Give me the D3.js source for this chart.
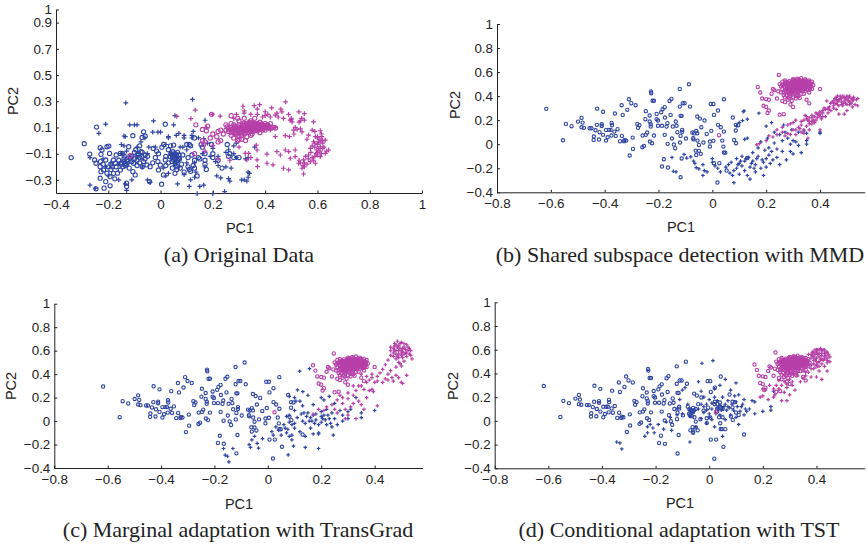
<!DOCTYPE html>
<html><head><meta charset="utf-8">
<script src="https://cdn.jsdelivr.net/npm/d3@7"></script>
<style>html,body{margin:0;padding:0;background:#fff}svg{display:block}</style>
</head><body><svg id="c" width="867" height="546"></svg>
<script>
const aBlueCircles=[[-.342,-.13],[-.292,-.024],[-.271,-.103],[-.245,.103],[-.252,-.148],[-.247,-.173],[-.231,-.054],[-.228,-.105],[-.224,-.072],[-.231,-.199],[-.228,-.237],[-.231,-.287],[-.247,-.368],[-.216,-.363],[-.21,-.313],[-.193,-.345],[-.205,-.047],[-.198,-.042],[-.195,-.098],[-.21,-.148],[-.18,-.148],[-.173,-.173],[-.218,-.224],[-.205,-.249],[-.193,-.275],[-.175,-.292],[-.165,-.249],[-.154,-.224],[-.144,-.199],[-.135,-.173],[-.129,-.148],[-.154,-.098],[-.139,-.118],[-.122,-.047],[-.114,-.135],[-.103,-.173],[-.106,-.237],[-.097,-.262],[-.106,.037],[-.065,.067],[-.059,.034],[-.071,.024],[-.084,-.1],[-.071,-.124],[-.065,-.16],[-.052,-.186],[-.04,-.199],[-.075,-.085],[-.09,-.15],[-.059,-.11],[-.13,-.325],[-.13,-.351],[-.042,-.313],[.004,-.333],[.011,-.262],[-.008,-.224],[-.001,-.186],[.018,-.148],[.037,-.123],[.05,-.148],[.056,-.173],[.062,-.199],[.069,-.135],[.047,-.085],[.05,-.034],[.018,.125],[-.028,-.06],[-.015,-.08],[-.008,-.1],[.005,-.05],[.012,-.03],[.02,-.12],[.03,-.07],[.038,-.04],[.044,-.16],[.05,-.11],[.055,-.1],[.06,-.13],[.06,-.16],[.065,-.09],[.072,-.14],[.08,-.18],[.085,-.11],[.055,-.25],[.062,-.22],[.045,-.21],[.02,-.19],[.1,-.03],[.11,-.03],[.115,-.04],[.105,-.13],[.105,-.2],[.11,-.22],[.115,-.235],[.125,-.19],[.13,-.21],[.13,.02],[.12,-.11],[.145,-.13],[.15,-.14],[.16,-.05],[.155,-.03],[.17,-.15],[.175,-.22],[.195,-.03],[.2,-.1],[.2,-.13],[.22,-.15],[.235,-.21],[.26,-.12],[.265,-.1],[.28,-.13],[.3,-.13],[.255,-.03],[.17,-.18],[.14,-.27],[-.145,-.1],[-.16,-.15],[-.17,-.11],[-.12,-.21],[-.125,-.16],[-.11,-.12],[-.1,-.09],[-.095,-.07],[-.08,-.04],[-.02,-.13],[-.03,-.17],[-.01,-.16],[.03,-.17],[-.23,-.16],[-.22,-.18],[-.2,-.2],[-.19,-.22],[-.18,-.25],[-.17,-.2],[-.15,-.18],[-.14,-.14],[-.11,-.16],[-.09,-.19],[-.08,-.17],[-.07,-.2],[.09,-.24],[.075,-.21],[.13,-.15],[.17,-.1],[-.085,-.11],[-.08,-.13],[-.07,-.09],[-.06,-.14],[-.05,-.12],[-.1,-.14],[-.09,-.11],[.045,-.13],[.05,-.12],[.055,-.14],[.06,-.11],[.04,-.1],[.07,-.11],[.065,-.15],[-.14,-.16],[-.135,-.19],[-.13,-.18],[-.15,-.17],[-.19,-.18],[-.185,-.2]];
const aBluePlus=[[-.133,.288],[.122,.315],[-.21,.125],[-.236,.055],[-.118,.12],[-.1,.12],[-.09,.12],[-.027,.15],[.055,.19],[.05,.12],[-.135,.03],[-.14,.035],[-.06,.02],[-.03,.065],[-.01,.065],[0,.065],[.03,.03],[.03,.02],[.07,.055],[.09,.04],[.12,.04],[.12,.02],[.09,.02],[-.14,-.04],[-.15,-.03],[-.13,-.08],[-.09,-.05],[-.075,-.01],[-.15,-.1],[-.27,-.13],[-.27,-.34],[-.25,-.365],[-.2,-.27],[-.16,-.3],[-.135,-.33],[-.13,-.38],[-.11,-.3],[-.07,-.2],[-.05,-.3],[-.04,-.32],[.065,-.33],[.055,-.19],[.11,-.35],[.115,-.3],[.13,-.28],[.14,-.405],[.15,-.35],[.165,-.34],[.2,-.405],[.245,-.39],[.21,-.16],[.22,-.19],[.215,-.27],[.23,-.285],[.265,-.31],[.26,-.29],[.31,-.3],[.32,-.3],[.33,-.31],[.335,-.28],[.335,-.24],[.34,-.25],[.29,-.13],[.28,-.1],[.26,-.07],[.25,-.09],[.25,-.2],[.27,-.21],[.22,-.12],[.2,-.06],[.18,-.02],[.165,.015],[.17,.155],[.145,.02],[.125,.07],[.1,-.07],[.085,-.05],[.075,-.05],[.04,-.1],[.02,-.03],[-.02,-.05],[-.045,-.05],[.06,-.17],[.07,-.2],[.1,-.17],[.13,-.17],[.17,-.2],[.16,-.1],[.19,-.12],[.28,-.04],[.29,-.02],[.36,-.05],[.335,-.13],[.325,-.14],[-.05,-.1],[-.12,-.12],[-.16,-.18],[-.19,-.17],[-.21,-.2],[-.22,-.14],[.01,-.21],[.03,-.25],[.09,-.26],[.02,-.27],[.06,.04],[.135,-.24]];
const aPinkCircles=[[.27,.19],[.195,.2],[.18,.11],[.135,.12],[.16,.085],[.175,.075],[.2,.05],[.19,.02],[.17,-.01],[.16,.0],[.215,.03],[.22,.07],[.23,.08],[.24,.05],[.22,-.01],[.23,.0],[.13,-.1],[-.117,-.115],[.165,-.03],[.25,.12],[.26,.09],[.25,.08],[.27,.13],[.28,.12],[.27,.1],[.28,.07],[.27,.06],[.29,.05],[.3,.08],[.29,.1],[.3,.12],[.31,.1],[.32,.13],[.31,.07],[.32,.05],[.3,.03],[.33,.09],[.33,.12],[.34,.1],[.35,.12],[.34,.08],[.35,.07],[.36,.09],[.36,.11],[.37,.13],[.38,.11],[.37,.09],[.38,.09],[.39,.12],[.4,.1],[.41,.1],[.42,.1],[.4,.08],[.39,.08],[.43,.1],[.36,.13],[.345,.15],[.36,.17],[.32,.17],[.3,.15],[.295,.17],[.35,.05],[.33,.03],[.31,.01],[.295,.0],[.28,.02],[.27,.04],[.3,.01],[.325,0],[.345,.04],[.38,.06],[.4,.13],[.38,.14],[.42,.13],[.44,.095],[.26,.07],[.255,.105],[.285,.085],[.315,.115],[.325,.075],[.355,.1],[.375,.105],[.395,.1],[.41,.12],[.35,.09],[.365,.115],[.29,.06],[.31,.04],[.34,.13]];
const aPinkCore=[[.345,.1],[.35,.105],[.355,.115],[.36,.1],[.365,.095],[.37,.11],[.375,.12],[.38,.1],[.385,.11],[.39,.095],[.395,.115],[.4,.115],[.405,.095],[.41,.11],[.415,.105],[.34,.115],[.335,.105],[.33,.1],[.325,.11],[.32,.1],[.315,.09],[.31,.085],[.305,.1],[.3,.09],[.295,.08],[.29,.09],[.285,.1],[.28,.095],[.275,.085],[.27,.08],[.33,.075],[.32,.085],[.31,.06],[.3,.06],[.34,.065],[.35,.08],[.36,.075],[.37,.075],[.375,.085],[.385,.09],[.39,.105],[.405,.11],[.36,.125],[.37,.12],[.38,.125],[.35,.135],[.34,.14],[.33,.13],[.305,.07],[.295,.07],[.285,.06],[.285,.11],[.3,.105],[.315,.13],[.325,.06],[.355,.085],[.365,.105],[.345,.09],[.335,.085],[.32,.075]];
const aPinkPlus=[[.133,.232],[.062,.184],[.116,.168],[.198,.2],[.228,.186],[.315,.262],[.32,.226],[.358,.267],[.379,.274],[.425,.25],[.478,.295],[.464,.219],[.439,.194],[.529,.219],[.55,.206],[.496,.156],[.503,.143],[.534,.15],[.55,.156],[.585,.143],[.611,.075],[.522,.085],[.509,.08],[.541,.067],[.566,.042],[.592,.03],[.617,.03],[.604,-.009],[.585,-.009],[.63,.004],[.611,-.047],[.643,-.072],[.63,-.098],[.598,-.072],[.573,-.06],[.566,-.11],[.611,-.123],[.592,-.173],[.573,-.16],[.547,-.148],[.528,-.173],[.541,-.211],[.515,-.123],[.496,-.135],[.477,-.072],[.49,-.085],[.515,-.072],[.458,-.11],[.445,-.085],[.407,-.103],[.43,-.186],[.407,-.173],[.371,-.199],[.369,-.148],[.33,-.148],[.337,-.098],[.324,-.098],[.369,-.072],[.366,-.034],[.439,.03],[.477,.037],[.493,.03],[.547,-.255],[.49,-.224],[.47,-.211],[.6,.02],[.61,.01],[.6,.03],[.62,-.02],[.62,-.06],[.6,-.09],[.59,-.05],[.61,-.08],[.58,-.13],[.56,-.18],[.55,-.17],[.545,-.19],[.53,-.15],[.625,-.05],[.635,-.08],[.59,-.02],[.56,.01],[.535,.09],[.515,.1],[.5,.16],[.47,.17],[.45,.18],[.42,.18],[.41,.2],[.4,.19],[.39,.18],[.37,.2],[.345,.2],[.32,.21],[.29,.2],[.28,.17],[.44,.1],[.42,.08],[.175,.1],[.17,-.08],[.2,-.04],[.22,-.14],[.265,-.15],[.3,-.05],[.345,-.13],[.58,.08],[.59,.07],[.615,.05],[.37,.11],[.39,.13],[.33,.11],[.35,.115],[.6,-.03],[.605,-.06],[.595,-.1],[.58,-.04],[.61,-.01],[.62,.0],[.6,-.11],[.585,-.15],[.565,-.14],[.555,-.12],[.615,-.1],[.575,-.09],[.59,-.12],[.535,-.17],[.55,-.2],[.51,.05],[.53,.14],[.54,.17],[.49,.2],[.5,.17],[.445,.21],[.46,.24],[.4,.22],[.37,.24]];
const sharedBlueCircles=[[-.617,.294],[-.555,.033],[-.544,.169],[-.523,.15],[-.499,.188],[-.486,.219],[-.482,.18],[-.486,.141],[-.477,.136],[-.456,.133],[-.449,.133],[-.44,.064],[-.441,.036],[-.428,.296],[-.429,.161],[-.434,.116],[-.421,.039],[-.419,.1],[-.411,.166],[-.411,.152],[-.406,.27],[-.406,.078],[-.395,.119],[-.395,.03],[-.389,.058],[-.384,.119],[-.378,.119],[-.374,.177],[-.373,.158],[-.375,.072],[-.362,.255],[-.364,.105],[-.359,.069],[-.352,.125],[-.343,.025],[-.336,.069],[-.337,.324],[-.333,.244],[-.328,.025],[-.326,.036],[-.32,.03],[-.316,.286],[-.31,.374],[-.307,-.094],[-.301,.341],[-.296,.055],[-.295,-.039],[-.285,.324],[-.279,.169],[-.276,.136],[-.271,.158],[-.26,-.025],[-.254,-.014],[-.259,.072],[-.247,.078],[-.247,.275],[-.249,.208],[-.242,.097],[-.233,.239],[-.233,.189],[-.229,.147],[-.229,.166],[-.232,.022],[-.224,.008],[-.228,.438],[-.227,.424],[-.222,.361],[-.217,.361],[-.217,.072],[-.207,.252],[-.207,.208],[-.202,.197],[-.202,.153],[-.185,.291],[-.177,.308],[-.19,.266],[-.187,.153],[-.176,.222],[-.177,.078],[-.17,.147],[-.167,.175],[-.166,.003],[-.159,.36],[-.152,.377],[-.155,.244],[-.15,.047],[-.147,.147],[-.143,-.003],[-.138,-.033],[-.136,.189],[-.133,.153],[-.121,.313],[-.11,.341],[-.103,.341],[-.121,.46],[-.087,.499],[-.083,.313],[-.118,.236],[-.114,.236],[-.118,.069],[-.12,.014],[-.112,.119],[-.112,.103],[-.098,.047],[-.074,.097],[-.068,.09],[-.071,.05],[-.056,.091],[-.056,.23],[-.046,.213],[-.029,.197],[-.041,.141],[-.05,-.006],[-.033,.014],[-.062,-.053],[-.05,-.055],[-.043,-.08],[-.021,.086],[-.006,.335],[.004,.335],[.006,.244],[.021,.28],[.043,.374],[-.009,.022],[-.009,-.019],[.004,.028],[-.004,.111],[.021,.161],[.031,.141],[.043,.105],[.037,.03],[.041,-.02],[.043,-.069],[.076,.222],[.087,.161],[.096,.158],[.087,.114],[.081,.036],[.088,.008],[.019,-.319],[-.187,-.186],[-.165,-.194],[-.118,-.275],[-.114,-.119],[-.18,-.125],[.006,-.158],[.026,-.158],[.053,-.219],[-.06,-.09],[-.07,.04],[-.055,.03],[-.13,.1],[-.06,.11],[.048,-.07],[.13,-.115]];
const sharedPinkCircles=[[.247,.576],[.169,.475],[.178,.43],[.185,.38],[.2,.375],[.21,.37],[.19,.32],[.2,.31],[.205,.26],[.21,.28],[.25,.245],[.265,.25],[.025,.075],[.4,.46],[.23,.45],[.225,.46],[.245,.44],[.22,.42],[.24,.38],[.26,.36],[.27,.35],[.29,.33],[.3,.31],[.325,.385],[.36,.34],[.35,.37],[.25,.5],[.255,.48],[.26,.46],[.255,.43],[.265,.41],[.27,.39],[.28,.37],[.295,.36],[.31,.38],[.34,.42],[.36,.43],[.37,.46],[.375,.49],[.37,.52],[.36,.53],[.345,.54],[.33,.55],[.315,.545],[.3,.54],[.285,.525],[.27,.515],[.26,.52],[.275,.49],[.27,.47],[.275,.44],[.285,.42],[.29,.4],[.3,.43],[.29,.45],[.285,.47],[.29,.5],[.3,.52],[.305,.5],[.3,.48],[.305,.46],[.31,.44],[.315,.41],[.32,.43],[.32,.46],[.315,.48],[.32,.51],[.325,.53],[.33,.5],[.335,.48],[.33,.46],[.335,.44],[.345,.46],[.345,.49],[.35,.51],[.355,.5],[.36,.47],[.355,.45],[.34,.525],[.31,.525],[.28,.45],[.295,.515],[.31,.5],[.325,.47],[.34,.5],[.35,.475],[.365,.5],[.26,.49],[.28,.505],[.295,.47],[.31,.465],[.325,.49],[.34,.47],[.3,.495],[.315,.45],[.33,.515],[.345,.445],[.275,.46],[.29,.435],[.305,.42],[.33,.42],[.27,.53],[.36,.515],[.305,.535],[.32,.54]];
const sharedPinkCore=[[.265,.5],[.268,.48],[.272,.5],[.278,.475],[.282,.49],[.287,.51],[.288,.46],[.292,.485],[.297,.53],[.298,.455],[.302,.51],[.303,.47],[.307,.49],[.308,.52],[.312,.475],[.313,.51],[.317,.53],[.318,.495],[.322,.48],[.323,.52],[.327,.505],[.328,.45],[.332,.485],[.333,.53],[.337,.51],[.338,.46],[.342,.485],[.343,.515],[.347,.475],[.348,.53],[.352,.49],[.353,.46],[.357,.515],[.358,.485],[.362,.49],[.363,.46],[.367,.505],[.368,.48],[.29,.44],[.295,.43],[.31,.455],[.32,.445],[.335,.455],[.28,.43],[.3,.445],[.27,.445],[.265,.43],[.29,.475],[.305,.475],[.315,.5],[.33,.475],[.345,.505],[.355,.475],[.27,.505],[.285,.45],[.3,.505],[.31,.515],[.325,.515],[.34,.51],[.35,.525],[.28,.515],[.295,.5],[.32,.47],[.335,.5],[.29,.415],[.275,.405],[.3,.39],[.285,.385],[.31,.4],[.32,.4]];
const bBluePlus=[[.118,.277],[.115,.27],[.13,.05],[.112,.197],[.13,.208],[.09,.152],[.173,.258],[-.15,-.11],[-.105,-.085],[-.095,-.115],[-.08,-.105],[-.145,-.225],[-.135,-.23],[-.07,-.14],[-.065,-.16],[-.06,-.195],[-.05,-.205],[-.035,-.17],[-.03,-.22],[-.035,-.26],[-.02,-.23],[0,-.12],[0,-.15],[.01,-.18],[.02,-.2],[.03,-.23],[.05,-.19],[.06,-.17],[.065,-.24],[.07,-.15],[.075,-.26],[.08,-.32],[.09,-.12],[.09,-.2],[.1,-.16],[.1,-.25],[.11,-.1],[.11,-.18],[.12,-.14],[.12,-.22],[.13,-.26],[.135,-.11],[.14,-.19],[.14,-.29],[.15,-.07],[.15,-.14],[.16,-.17],[.16,-.23],[.165,-.12],[.17,-.03],[.17,-.1],[.18,-.2],[.18,.02],[.19,-.26],[.19,-.15],[.195,-.05],[.2,.15],[.2,-.12],[.2,-.19],[.205,.05],[.21,-.03],[.21,-.09],[.22,.18],[.22,-.06],[.225,-.13],[.23,.1],[.23,.01],[.24,-.04],[.24,-.11],[.25,.08],[.25,-.17],[.26,.03],[.26,-.06],[.265,.16],[.27,.1],[.275,-.13],[.28,.05],[.29,0],[.295,.12],[.3,-.08],[.3,.03],[.31,.02],[.32,-.01],[.32,.1],[.33,-.07],[.34,.11],[.35,.09],[.35,.03],[.35,0],[.4,.1],[.4,.09],[.29,-.06],[.125,-.12],[.145,-.16],[.155,-.2],[.185,-.13],[.215,-.16],[.105,-.14],[.095,-.17],[.08,-.22],[.12,.04],[.1,.18]];
const bPinkPlus=[[.165,-.005],[.175,.005],[.2,.03],[.225,.06],[.24,.08],[.26,.1],[.28,.09],[.29,.17],[.3,.18],[.31,.12],[.325,.13],[.33,.1],[.34,.12],[.355,.2],[.36,.22],[.37,.24],[.375,.2],[.38,.18],[.39,.22],[.395,.25],[.4,.27],[.41,.26],[.42,.23],[.43,.3],[.44,.28],[.45,.32],[.46,.29],[.47,.25],[.49,.25],[.5,.28],[.44,.34],[.45,.36],[.455,.38],[.46,.34],[.465,.33],[.47,.37],[.475,.4],[.48,.35],[.48,.38],[.485,.32],[.49,.36],[.49,.39],[.495,.34],[.5,.37],[.505,.39],[.51,.35],[.515,.38],[.52,.36],[.525,.39],[.53,.33],[.535,.37],[.54,.38],[.54,.32],[.425,.36],[.43,.26],[.415,.3],[.35,.15],[.36,.17],[.345,.24],[.33,.19],[.31,.2],[.28,.16],[.26,.14],[.24,.12],[.21,.07],[.4,.12],[.355,.05],[.3,.12],[.37,.22],[.385,.26],[.4,.23],[.41,.23],[.43,.29],[.45,.3],[.47,.36],[.46,.37],[.5,.33],[.51,.33],[.52,.31],[.35,.23],[.37,.19],[.445,.35],[.455,.34],[.465,.36],[.475,.38],[.485,.34],[.495,.38],[.505,.36],[.515,.34],[.525,.37],[.47,.32],[.48,.33],[.46,.39],[.465,.4],[.485,.4],[.5,.4],[.51,.4],[.52,.38],[.35,.21],[.36,.19],[.38,.23],[.39,.25],[.4,.25],[.37,.17],[.34,.2],[.33,.16],[.32,.14],[.34,.09],[.31,.08],[.29,.08],[.27,.07],[.42,.29],[.41,.28],[.435,.31],[.36,.12],[.385,.2],[.405,.21]];
const cBluePlus=[[.119,.425],[.156,.447],[.111,.265],[.131,.25],[-.166,-.234],[-.131,-.234],[-.16,-.29],[-.151,-.3],[-.146,-.348],[.076,-.288],[.19,-.234],[.14,-.225],[.096,-.214],[-.07,-.2],[-.06,-.16],[-.05,-.13],[-.04,-.19],[-.02,-.15],[-.065,-.225],[-.035,-.23],[.015,-.09],[.02,-.12],[.03,-.05],[.04,-.08],[.05,-.12],[.06,-.03],[.07,-.1],[.08,-.01],[.08,.05],[.09,-.12],[.09,-.03],[.1,.09],[.1,-.06],[.11,.03],[.12,-.09],[.13,.0],[.13,.13],[.14,-.02],[.14,-.13],[.15,.07],[.16,-.06],[.16,.03],[.17,-.11],[.17,.14],[.18,.01],[.18,.06],[.19,-.11],[.19,-.03],[.2,.08],[.2,-.01],[.21,.18],[.21,.05],[.22,-.03],[.22,.1],[.23,.02],[.23,.21],[.24,-.05],[.24,.07],[.245,-.12],[.25,.15],[.25,.02],[.26,-.03],[.27,.09],[.28,.0],[.28,.05],[.3,.02],[.3,.08],[.31,.1],[.33,.2],[.35,.07],[.35,.03],[.4,.09],[.2,.2],[.15,.22],[.1,.2],[.08,.21],[.12,.17],[.105,.17],[.125,.06],[.155,.0],[.2,.04],[.19,-.1],[.205,.02],[.215,.01],[.225,.05],[.235,-.02],[.17,.05],[.165,.0],[.175,-.02],[.145,.04],[.135,.07],[.065,-.06],[.075,-.07],[.08,-.13],[.09,-.16],[.1,-.02],[.07,.04]];
const cPinkPlus=[[.17,.06],[.29,.02],[.3,.05],[.33,.02],[.22,.12],[.24,.14],[.26,.18],[.27,.22],[.3,.19],[.3,.24],[.32,.3],[.33,.26],[.34,.17],[.35,.14],[.36,.27],[.37,.33],[.38,.35],[.39,.27],[.395,.25],[.41,.13],[.36,.45],[.35,.4],[.39,.37],[.4,.33],[.41,.38],[.42,.41],[.44,.36],[.45,.4],[.46,.43],[.47,.34],[.48,.39],[.49,.37],[.5,.33],[.505,.32],[.52,.39],[.44,.48],[.45,.52],[.46,.56],[.47,.62],[.475,.66],[.48,.6],[.48,.53],[.485,.68],[.49,.57],[.49,.64],[.495,.49],[.5,.6],[.5,.67],[.505,.54],[.51,.63],[.51,.51],[.515,.58],[.52,.65],[.52,.55],[.525,.6],[.53,.57],[.53,.62],[.535,.6],[.54,.53],[.5,.56],[.49,.5],[.47,.58],[.485,.63],[.51,.57],[.49,.6],[.505,.62],[.475,.6],[.46,.63],[.48,.46],[.5,.47],[.25,.1],[.26,.07],[.28,.15],[.19,.1],[.21,.09],[.36,.1],[.38,.26],[.43,.44],[.37,.2],[.48,.65],[.495,.66],[.495,.62],[.51,.66],[.515,.61],[.5,.58],[.485,.55],[.475,.64],[.52,.58],[.525,.63],[.535,.56],[.505,.59],[.49,.54],[.47,.55],[.48,.57],[.46,.6],[.32,.22],[.34,.3],[.35,.3],[.37,.38],[.39,.4],[.41,.34],[.43,.33],[.45,.35],[.465,.37],[.31,.12],[.28,.2],[.29,.1],[.32,.15]];
const dBluePlus=[[-.027,.486],[.014,.508],[-.345,-.178],[-.333,-.186],[-.326,-.237],[-.072,-.178],[-.23,-.1],[-.24,-.13],[-.23,-.05],[-.22,-.03],[-.21,-.06],[-.205,-.1],[-.19,-.03],[-.17,-.07],[-.16,-.01],[-.14,-.08],[-.145,.03],[-.12,.1],[-.12,.05],[-.11,.18],[-.1,.06],[-.1,.26],[-.09,.28],[-.08,.14],[-.07,.1],[-.06,.07],[-.05,-.05],[-.04,.33],[-.04,.1],[-.03,.25],[-.03,.02],[-.02,.2],[-.02,.07],[-.01,-.02],[-.01,.14],[0,.06],[0,.18],[.01,.01],[.01,.1],[.02,.27],[.02,-.05],[.03,.17],[.03,.11],[.04,.05],[.04,.3],[.05,-.13],[.05,.2],[.05,.1],[.06,.35],[.06,.01],[.07,.17],[.07,.12],[.08,.05],[.08,.26],[.09,.09],[.1,.32],[.1,.16],[.1,.03],[.11,.22],[.11,-.03],[.12,.12],[.13,.05],[.13,.18],[.14,.08],[.15,.1],[.16,.17],[.17,.06],[.17,.16],[.2,.08],[.23,.09],[.23,.12],[.24,.25],[-.02,.12],[.04,.13],[.06,.14],[.025,.06],[.045,.09],[.055,.12],[.065,.09],[.075,.11],[.085,.14],[.095,.21],[.105,.12],[.115,.08],[.125,.14],[.135,.1],[-.01,.09],[.01,.15],[.02,.2],[-.03,.14],[.0,.03]];
const dBlueCircles=[[-.07,.09],[-.06,.075],[-.075,.06],[-.08,.12],[-.05,.1],[-.065,.04],[.03,.1],[.04,.12],[.03,.08],[.05,.1],[.02,.14],[.04,.155],[-.07,-.08],[-.06,-.1],[.05,.03],[.06,-.07],[.1,.07],[.11,.05]];
const dPinkPlus=[[.19,.2],[.2,.21],[.2,.27],[.21,.26],[.22,.18],[.225,.3],[.24,.2],[.245,.22],[.26,.27],[.27,.17],[.28,.24],[.29,.17],[.29,.28],[.3,.22],[.31,.3],[.32,.26],[.34,.33],[.36,.38],[.38,.37],[.4,.37],[.42,.35],[.44,.42],[.37,.41],[.39,.44],[.4,.47],[.41,.42],[.43,.46],[.44,.49],[.45,.54],[.45,.5],[.38,.47],[.38,.53],[.385,.58],[.39,.51],[.395,.56],[.395,.6],[.4,.53],[.405,.6],[.41,.57],[.41,.5],[.415,.61],[.42,.55],[.42,.59],[.425,.51],[.43,.57],[.43,.6],[.435,.55],[.44,.58],[.44,.53],[.4,.58],[.41,.54],[.42,.52],[.405,.49],[.39,.54],[.43,.52],[.37,.56],[.25,.3],[.26,.34],[.28,.33],[.3,.35],[.3,.4],[.33,.41],[.35,.42],[.385,.55],[.395,.52],[.4,.6],[.405,.56],[.41,.6],[.415,.52],[.42,.57],[.425,.6],[.43,.54],[.435,.58],[.39,.58],[.38,.56],[.445,.56],[.44,.51],[.4,.5],[.42,.48],[.41,.46],[.39,.48],[.38,.44],[.36,.41],[.24,.27],[.27,.3],[.29,.31],[.31,.33],[.33,.38],[.35,.36]];
const xTicksA=[-.4,-.2,0,.2,.4,.6,.8,1],yTicksA=[.9,.7,.5,.3,.1,-.1,-.3,1];
const xTicks=[-.8,-.6,-.4,-.2,0,.2,.4],yTicks=[-.4,-.2,0,.2,.4,.6,.8,1];
const captions=["(a) Original Data","(b) Shared subspace detection with MMD","(c) Marginal adaptation with TransGrad","(d) Conditional adaptation with TST"];
const BLUE="#2f45a3",PINK="#b63fa8";
const fmt=d=>d===0?"0":d===1?"1":String(d).replace("-","\u2212").replace(/^(\u2212?)\./,"$10.");
const bcS=sharedBlueCircles,pcS=sharedPinkCircles.concat(sharedPinkCore);
const panels=[
 {x:[-.4,1],r:[56,422],y:[193,9.5],xt:xTicksA,yt:yTicksA,bc:aBlueCircles,bp:aBluePlus,pc:aPinkCircles.concat(aPinkCore),pp:aPinkPlus,cr:2.1,ps:2.4,xl:[240,233],yl:[13,101],cap:[239,262]},
 {x:[-.8,.566],r:[497,864.7],y:[192.3,24],xt:xTicks,yt:yTicks,bc:bcS,bp:bBluePlus,pc:pcS,pp:bPinkPlus,cr:1.65,ps:1.8,xl:[681,232],yl:[455,105],cap:[680,262]},
 {x:[-.8,.58],r:[54.3,422.7],y:[468,303.7],xt:xTicks,yt:yTicks,bc:bcS,bp:cBluePlus,pc:pcS,pp:cPinkPlus,cr:1.65,ps:1.8,xl:[239,509],yl:[11,386],cap:[238,537]},
 {x:[-.8,.58],r:[494.7,864.7],y:[468.3,302.3],xt:xTicks,yt:yTicks,bc:bcS.concat(dBlueCircles),bp:dBluePlus,pc:pcS,pp:dPinkPlus,cr:1.65,ps:1.8,xl:[680,508],yl:[453,386],cap:[679,537]}
];
const svg=d3.select("#c");
const SANS="'Liberation Sans',Arial,sans-serif";
panels.forEach((p,i)=>{
 const x=d3.scaleLinear().domain(p.x).range(p.r);
 const y=d3.scaleLinear().domain([-.4,1]).range(p.y);
 const g=svg.append("g");
 const ax=g.append("g").attr("transform",`translate(0,${p.y[0]})`).call(d3.axisBottom(x).tickValues(p.xt).tickFormat(fmt).tickSize(-2.5).tickSizeOuter(0).tickPadding(6));
 const ay=g.append("g").attr("transform",`translate(${p.r[0]},0)`).call(d3.axisLeft(y).tickValues(p.yt).tickFormat(fmt).tickSize(-3).tickSizeOuter(0).tickPadding(4));
 [ax,ay].forEach(a=>{a.selectAll("text").attr("font-family",SANS).attr("font-size",13.4).attr("fill","#222");
   a.selectAll("path,line").attr("stroke","#222").attr("stroke-width",1);});
 const plus=s=>`M${-s},0H${s}M0,${-s}V${s}`;
 const draw=(data,col,kind)=>{
  const m=g.append("g");
  if(kind==="c") m.selectAll("circle").data(data).join("circle").attr("cx",d=>x(d[0])).attr("cy",d=>y(d[1])).attr("r",p.cr).attr("fill","none").attr("stroke",col).attr("stroke-width",1.1);
  else m.selectAll("path").data(data).join("path").attr("transform",d=>`translate(${x(d[0])},${y(d[1])})`).attr("d",plus(p.ps)).attr("fill","none").attr("stroke",col).attr("stroke-width",1.2);
 };
 draw(p.bp,BLUE,"p");draw(p.bc,BLUE,"c");draw(p.pp,PINK,"p");draw(p.pc,PINK,"c");
 g.append("text").text("PC1").attr("x",p.xl[0]).attr("y",p.xl[1]).attr("text-anchor","middle").attr("font-family",SANS).attr("font-size",14.5).attr("fill","#222");
 g.append("text").text("PC2").attr("text-anchor","middle").attr("font-family",SANS).attr("font-size",14.5).attr("fill","#222").attr("transform",`translate(${p.yl[0]+5},${p.yl[1]}) rotate(-90)`);
 g.append("text").text(captions[i]).attr("x",p.cap[0]).attr("y",p.cap[1]).attr("text-anchor","middle").attr("font-family","'Liberation Serif','Times New Roman',serif").attr("font-size",22).attr("fill","#222");
});
</script></body></html>
